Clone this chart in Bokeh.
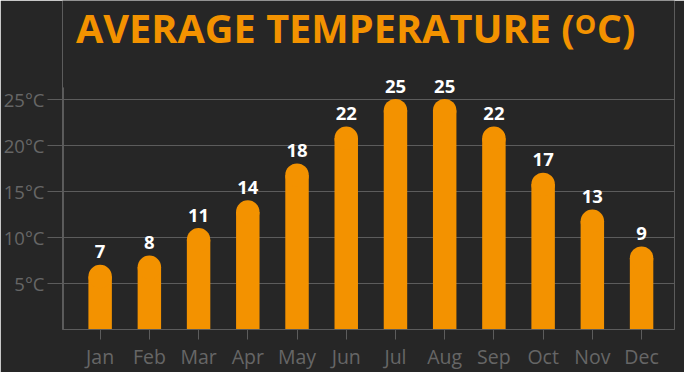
from bokeh.plotting import figure
from bokeh.models import Range1d, FixedTicker, ColumnDataSource
from bokeh.core.properties import value
from bokeh.embed import file_html
from bokeh.resources import INLINE

# ---- data ----
months = ["Jan", "Feb", "Mar", "Apr", "May", "Jun", "Jul", "Aug", "Sep", "Oct", "Nov", "Dec"]
temps = [7, 8, 11, 14, 18, 22, 25, 25, 22, 17, 13, 9]
y_ticks = [5, 10, 15, 20, 25]
y_tick_labels = ["5°C", "10°C", "15°C", "20°C", "25°C"]
title_main = "AVERAGE TEMPERATURE ("
title_sup = "O"
title_end = "C)"

# ---- style / layout ----
BG = "#262626"
ORANGE = "#F39200"
GRID = "#5c5c5c"
LABEL = "#666666"
FONT = "Open Sans"

W, H = 684, 372
FL, FR, FT, FB = 61, 674, 0, 333      # frame edges (pixels)
AXIS_X_PX = 62                          # vertical axis line position
AXIS_TOP_PX = 88                        # top of the vertical axis line
X0, X1 = 0.2353, 12.669
PX_Y = 9.332
Y0 = 0.0
Y1 = (FB - FT) / PX_Y
PX_X = (FR - FL) / (X1 - X0)


def sx(px):
    return X0 + (px - FL) / PX_X


def sy(py):
    return Y0 + (FB - py) / PX_Y


BAR_PX = 23.5
bar_w = BAR_PX / PX_X
cap_dy = (BAR_PX / 2) / PX_Y

xs = list(range(1, len(months) + 1))
src = ColumnDataSource(dict(
    x=xs,
    top=[v - cap_dy for v in temps],
    val=temps,
    txt=[str(v) for v in temps],
))

p = figure(width=W, height=H, output_backend="svg", toolbar_location=None, tools="",
           x_range=Range1d(X0, X1), y_range=Range1d(Y0, Y1),
           min_border_left=FL, min_border_right=W - FR,
           min_border_top=FT, min_border_bottom=H - FB,
           background_fill_color=BG, border_fill_color=BG)
p.outline_line_color = None
p.outline_line_alpha = 0

# grid
p.xgrid.grid_line_color = None
p.ygrid.grid_line_color = GRID
p.ygrid.ticker = FixedTicker(ticks=y_ticks)

# vertical axis line (starts just above the top gridline)
p.segment(x0=[sx(AXIS_X_PX)], y0=[Y0], x1=[sx(AXIS_X_PX)], y1=[sy(AXIS_TOP_PX)],
          line_color=GRID, line_width=1)

# bars with rounded tops
p.vbar(x="x", bottom=0, top="top", width=bar_w, source=src,
       fill_color=ORANGE, line_color=None)
p.circle(x="x", y="top", radius=bar_w / 2, radius_dimension="x", source=src,
         fill_color=ORANGE, line_color=None)
p.text(x="x", y="val", text="txt", source=src, y_offset=-13,
       text_align="center", text_baseline="alphabetic",
       text_font=value(FONT), text_font_style="bold",
       text_font_size="18.5px", text_color="white")

# title (with superscript O)
tsrc = ColumnDataSource(dict(
    x=[sx(574), sx(574), sx(596)],
    y=[sy(0.5), sy(5), sy(0.5)],
    text=[title_main, title_sup, title_end],
    align=["right", "left", "left"],
    size=["39.7px", "27px", "39.7px"],
))
p.text(x="x", y="y", text="text", source=tsrc, text_align="align",
       text_font_size="size", text_baseline="top",
       text_font=value(FONT), text_font_style="bold", text_color=ORANGE)

# axes
p.xaxis.ticker = FixedTicker(ticks=xs)
p.xaxis.major_label_overrides = {i: m for i, m in zip(xs, months)}
p.xaxis.major_tick_out = 10
p.xaxis.major_tick_in = 0
p.xaxis.minor_tick_line_color = None
p.xaxis.major_label_standoff = 3
p.xaxis.axis_line_color = GRID
p.xaxis.major_tick_line_color = GRID
p.xaxis.major_label_text_color = LABEL
p.xaxis.major_label_text_font = FONT
p.xaxis.major_label_text_font_size = "19.5px"

p.yaxis.ticker = FixedTicker(ticks=y_ticks)
p.yaxis.major_label_overrides = {v: l for v, l in zip(y_ticks, y_tick_labels)}
p.yaxis.major_tick_out = 15
p.yaxis.major_tick_in = 0
p.yaxis.minor_tick_line_color = None
p.yaxis.major_label_standoff = 3
p.yaxis.axis_line_color = None
p.yaxis.major_tick_line_color = GRID
p.yaxis.major_label_text_color = LABEL
p.yaxis.major_label_text_font = FONT
p.yaxis.major_label_text_font_size = "18.5px"

html = file_html(p, INLINE).replace("<body>", '<body style="background:%s">' % BG, 1)
open("out.html", "w").write(html)
